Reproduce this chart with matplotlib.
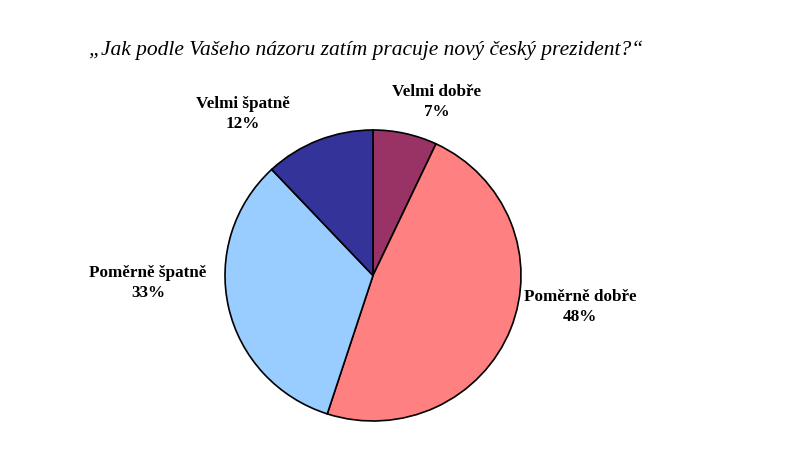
import matplotlib.pyplot as plt

labels = ['Velmi dobře', 'Poměrně dobře', 'Poměrně špatně', 'Velmi špatně']
values = [7, 48, 33, 12]
colors = ['#993366', '#FF8080', '#99CCFF', '#333399']
# label anchor points in figure pixels (x, y from top)
label_pos = [(437, 102), (580, 307), (148, 283), (243, 114)]

W, H = 800, 449
fig = plt.figure(figsize=(8, 4.49), dpi=100)
fig.patch.set_facecolor('white')

ax = fig.add_axes([225 / W, (H - 421) / H, 296 / W, 291 / H])
ax.pie(values, colors=colors, startangle=90, counterclock=False,
       wedgeprops=dict(edgecolor='black', linewidth=1.2))
ax.set_aspect('auto')
ax.set_xlim(-1, 1)
ax.set_ylim(-1, 1)

for lab, v, (x, y) in zip(labels, values, label_pos):
    fig.text(x / W, 1 - y / H, f'{lab}\n{v}%', ha='center', va='center',
             family='Liberation Serif', fontweight='bold', fontsize=12.3,
             linespacing=1.4)

fig.text(366 / W, 1 - 50 / H,
         '„Jak podle Vašeho názoru zatím pracuje nový český prezident?“',
         ha='center', va='center', family='Liberation Serif',
         style='italic', fontsize=15.5)

fig.savefig('out.png', dpi=100)
